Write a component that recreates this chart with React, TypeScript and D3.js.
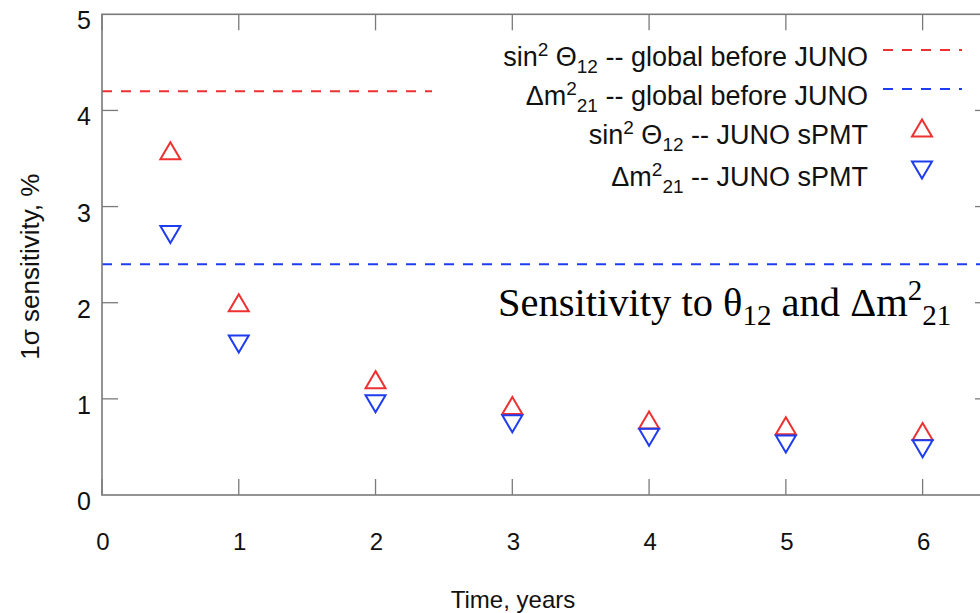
import React from "react";
import * as d3 from "d3";

const years = [0.5, 1, 2, 3, 4, 5, 6];
const sin2Theta12Juno = [3.58, 2.0, 1.2, 0.93, 0.78, 0.72, 0.66];
const dm2_21Juno = [2.71, 1.57, 0.95, 0.74, 0.6, 0.53, 0.48];
const sin2Theta12Global = 4.2;
const dm2_21Global = 2.4;
const xTicks = [0, 1, 2, 3, 4, 5, 6];
const yTicks = [0, 1, 2, 3, 4, 5];

const RED = "#ee3030";
const BLUE = "#1e3cf0";
const GRAY = "#7a7a7a";
const SANS = "'Liberation Sans', Arial, Helvetica, sans-serif";
const SERIF = "'Liberation Serif', 'Times New Roman', serif";

const W = 980;
const H = 613;
const left = 102;
const right = 991;
const top = 14.3;
const bottom = 495;

const x = d3.scaleLinear().domain([0, 6.5]).range([left, right]);
const y = d3.scaleLinear().domain([0, 5]).range([bottom, top]);

const TW = 20;
const TH = 17;
function triUp(cx: number, cy: number) {
  const p = d3.path();
  p.moveTo(cx, cy - TH / 2);
  p.lineTo(cx + TW / 2, cy + TH / 2);
  p.lineTo(cx - TW / 2, cy + TH / 2);
  p.closePath();
  return p.toString();
}
function triDown(cx: number, cy: number) {
  const p = d3.path();
  p.moveTo(cx, cy + TH / 2);
  p.lineTo(cx + TW / 2, cy - TH / 2);
  p.lineTo(cx - TW / 2, cy - TH / 2);
  p.closePath();
  return p.toString();
}

export default function App() {
  const tickLen = 16;
  const legendRight = 868;
  const legendRows = [50, 89, 128, 170];
  const fs = 24;
  const lfs = 27;
  const lsub = 19;
  return (
    <svg width={W} height={H} style={{ position: "absolute", left: 0, top: 0, background: "#fff" }}>
      <rect x={0} y={0} width={W} height={H} fill="#fff" />
      {/* global lines */}
      <line x1={x(0)} x2={x(6.5)} y1={y(sin2Theta12Global)} y2={y(sin2Theta12Global)} stroke={RED} strokeWidth={2} strokeDasharray="10,9" />
      <line x1={x(0)} x2={x(6.5)} y1={y(dm2_21Global)} y2={y(dm2_21Global)} stroke={BLUE} strokeWidth={2} strokeDasharray="10,9" />
      {/* opaque legend box */}
      <rect x={432} y={33} width={right - 432} height={157} fill="#fff" />
      {/* frame */}
      <rect x={left} y={top} width={right - left} height={bottom - top} fill="none" stroke={GRAY} strokeWidth={1.6} />
      {xTicks.map((t) => (
        <g key={"xt" + t}>
          <line x1={x(t)} x2={x(t)} y1={bottom} y2={bottom - tickLen} stroke={GRAY} strokeWidth={1.3} />
          <line x1={x(t)} x2={x(t)} y1={top} y2={top + tickLen} stroke={GRAY} strokeWidth={1.3} />
          <text x={x(t) + 1} y={550} textAnchor="middle" fontFamily={SANS} fontSize={fs} fill="#111">
            {t}
          </text>
        </g>
      ))}
      {yTicks.map((t) => (
        <g key={"yt" + t}>
          {t > 0 && t < 5 && (
            <>
              <line x1={left} x2={left + tickLen} y1={y(t)} y2={y(t)} stroke={GRAY} strokeWidth={1.3} />
              <line x1={right} x2={right - tickLen} y1={y(t)} y2={y(t)} stroke={GRAY} strokeWidth={1.3} />
            </>
          )}
          <text x={91} y={y(t) + 15} textAnchor="end" fontFamily={SANS} fontSize={fs + 1} fill="#111">
            {t}
          </text>
        </g>
      ))}
      {/* data markers */}
      {years.map((yr, i) => (
        <path key={"r" + i} d={triUp(x(yr), y(sin2Theta12Juno[i]))} fill="none" stroke={RED} strokeWidth={2} />
      ))}
      {years.map((yr, i) => (
        <path key={"b" + i} d={triDown(x(yr), y(dm2_21Juno[i]))} fill="none" stroke={BLUE} strokeWidth={2} />
      ))}
      {/* legend */}
      <g fontFamily={SANS} fontSize={lfs} fill="#111">
        <text x={legendRight} y={legendRows[0] + 16} textAnchor="end">
          sin<tspan dy={-10} fontSize={lsub}>2</tspan>
          <tspan dy={10}> Θ</tspan>
          <tspan dy={7} fontSize={lsub}>12</tspan>
          <tspan dy={-7}> -- global before JUNO</tspan>
        </text>
        <text x={legendRight} y={legendRows[1] + 16} textAnchor="end">
          Δm<tspan dy={-10} fontSize={lsub}>2</tspan>
          <tspan dy={17} fontSize={lsub}>21</tspan>
          <tspan dy={-7}> -- global before JUNO</tspan>
        </text>
        <text x={legendRight} y={legendRows[2] + 16} textAnchor="end">
          sin<tspan dy={-10} fontSize={lsub}>2</tspan>
          <tspan dy={10}> Θ</tspan>
          <tspan dy={7} fontSize={lsub}>12</tspan>
          <tspan dy={-7}> -- JUNO sPMT</tspan>
        </text>
        <text x={legendRight} y={legendRows[3] + 16} textAnchor="end">
          Δm<tspan dy={-10} fontSize={lsub}>2</tspan>
          <tspan dy={17} fontSize={lsub}>21</tspan>
          <tspan dy={-7}> -- JUNO sPMT</tspan>
        </text>
      </g>
      <line x1={883} x2={962} y1={legendRows[0]} y2={legendRows[0]} stroke={RED} strokeWidth={2} strokeDasharray="10,9" />
      <line x1={883} x2={962} y1={legendRows[1]} y2={legendRows[1]} stroke={BLUE} strokeWidth={2} strokeDasharray="10,9" />
      <path d={triUp(922, legendRows[2])} fill="none" stroke={RED} strokeWidth={2} />
      <path d={triDown(922, legendRows[3])} fill="none" stroke={BLUE} strokeWidth={2} />
      {/* annotation */}
      <text x={498} y={316} fontFamily={SERIF} fontSize={40.5} fill="#000">
        Sensitivity to θ<tspan dy={9} fontSize={29}>12</tspan>
        <tspan dy={-9}> and Δm</tspan>
        <tspan dy={-16} fontSize={29}>2</tspan>
        <tspan dy={25} fontSize={29}>21</tspan>
      </text>
      {/* axis titles */}
      <text x={513} y={608} textAnchor="middle" fontFamily={SANS} fontSize={fs} fill="#111">
        Time, years
      </text>
      <text transform={`translate(39,${(top + bottom) / 2 + 12}) rotate(-90)`} textAnchor="middle" fontFamily={SANS} fontSize={26} fill="#111">
        1σ sensitivity, %
      </text>
    </svg>
  );
}
